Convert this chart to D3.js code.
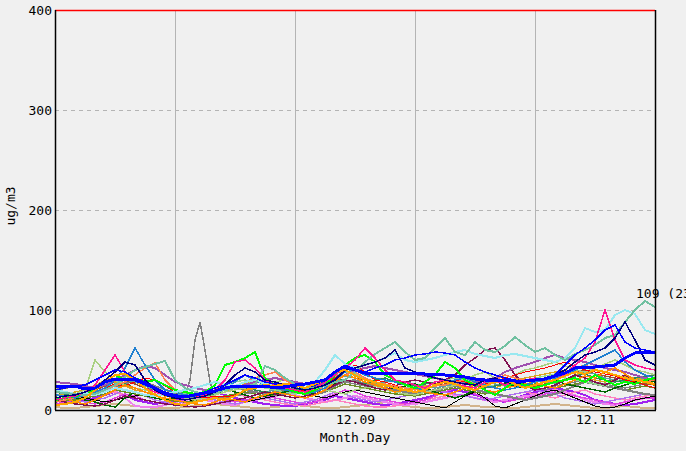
<!DOCTYPE html>
<html><head><meta charset="utf-8">
<script src="https://cdn.jsdelivr.net/npm/d3@7"></script>
<style>
body{margin:0;background:#f0f0f0;}
svg{display:block;}
text{font-family:"DejaVu Sans Mono",monospace;font-size:13px;fill:#000;}
</style>
</head><body><svg id="c" width="686" height="451"></svg>
<script>
// ---- sampling grid (hours since 12.07 00:00) and axis labels ----
const hours = d3.range(0, 121, 2);
const grayHours = d3.range(0, 25, 2).concat(d3.range(26, 33, 1), d3.range(34, 121, 2));
const dayLabels = ["12.07", "12.08", "12.09", "12.10", "12.11"];
const labelHours = [12, 36, 60, 84, 108];
const midnightHours = [24, 48, 72, 96];
const yTicks = [0, 100, 200, 300, 400];
const yGridValues = [100, 200, 300];
const yTitle = "ug/m3";
const xTitle = "Month.Day";
const maxNote = "109 (23:00)";

// ---- series values (ug/m3) ----
const sAvg = [24,23,24,21,22,28,31,31,30,26,22,16, 14,13,15,17,19,22,24,23,24,24,22,23, 25,26,28,30,38,44,40,37,37,37,37,37, 37,36,36,35,34,33,31,30,30,30,29,29, 30,31,34,37,42,43,43,44,45,52,57,58, 57];
const sAqua = [18,17,16,15,16,20,25,33,40,43,46,49, 30,22,18,16,17,20,22,24,25,44,40,32, 26,22,22,24,28,30,38,48,56,62,68,58, 50,52,62,72,58,55,68,60,58,64,73,65, 58,62,55,50,56,60,65,72,75,88,100,109, 103];
const sCyan = [20,18,16,17,15,18,22,20,18,15,14,16, 18,20,22,25,28,26,24,28,30,26,24,22, 24,25,28,40,55,46,42,45,48,52,57,50, 48,50,52,55,58,60,56,54,52,55,56,54, 52,50,48,52,62,82,78,80,95,100,96,80, 76];
const sPink = [10,12,14,18,25,40,55,38,30,22,18,15, 12,10,12,15,20,30,48,50,42,30,25,22, 20,18,22,28,35,42,50,62,52,40,30,28, 25,22,28,30,26,24,22,28,30,25,28,30, 32,28,30,35,45,52,68,100,70,50,45,42, 40];
const sNavy = [12,14,15,18,22,30,38,48,45,30,20,15, 12,10,12,14,18,25,35,42,38,30,28,25, 22,20,22,25,30,40,42,45,48,52,60,42, 38,35,32,30,28,26,25,30,32,28,26,28, 30,32,35,40,48,55,58,62,72,88,70,50, 45];
const sSteel = [15,14,12,15,18,22,30,42,62,45,30,20, 18,15,14,16,20,22,28,35,30,25,22,20, 18,16,18,22,30,38,40,35,32,30,28,25, 22,20,25,28,30,32,28,25,22,20,22,25, 28,30,32,35,40,45,50,55,60,48,40,35, 32];
const sBlue = [20,22,24,25,30,35,40,38,32,28,22,18, 15,14,16,18,22,25,30,35,32,28,26,25, 24,22,25,30,38,42,40,38,42,45,50,52, 55,56,58,57,55,48,42,38,35,32,30,28, 30,32,35,45,55,62,70,80,85,68,62,60, 58];
const sLime = [10,12,14,16,20,28,35,30,32,28,30,25, 20,18,16,18,25,45,48,52,58,32,25,22, 18,16,20,25,35,45,52,55,48,35,30,25, 22,28,35,48,42,30,25,20,15,22,28,25, 22,25,28,30,32,28,35,30,25,28,26,30, 32];
const sOrange = [5,6,8,12,20,28,35,36,30,22,15,10, 6,5,8,10,12,10,14,20,22,25,24,26, 25,22,26,30,38,40,35,30,28,25,22,20, 18,20,25,28,26,22,20,24,28,30,26,22, 25,28,30,34,38,36,40,38,35,32,30,28, 26];
const sDarkOrange = [10,12,8,6,10,15,20,25,22,18,14,12, 10,8,6,5,8,12,10,8,12,15,18,16, 14,12,15,20,28,35,32,28,25,22,18,20, 22,18,16,15,18,22,25,20,18,22,24,26, 28,24,22,26,30,34,32,38,42,36,30,28, 25];
const sCoral = [8,10,12,14,16,20,24,28,35,42,47,30, 20,18,15,16,18,20,24,28,32,35,38,30, 25,22,20,22,30,35,38,32,28,26,24,22, 20,22,24,25,28,30,26,24,30,35,32,30, 28,30,35,38,42,45,40,38,35,32,30,28, 30];
const sRed = [12,14,15,16,18,22,26,24,28,32,30,24, 18,15,14,12,14,13,15,20,22,24,22,20, 18,20,22,25,32,40,45,38,30,28,25,22, 20,22,25,28,30,28,25,26,28,32,35,38, 40,42,45,48,44,40,38,36,34,30,28,25, 22];
const sGray = [15,14,13,15,18,22,26,24,20,18,16,14,12, 14,30,70,88,60,28,14, 12,14,16,18,16,15,16, 18,16,15,18,24,28,26,24,22,20,18,20, 22,20,18,22,25,28,26,24,22,20,22,24, 22,20,24,26,28,30,28,26,24,22,24,26,25];
const sPurple = [12,10,8,10,12,15,18,15,10,8,6,8, 10,12,14,16,18,15,12,10,8,6,5,4, 4,6,8,10,14,12,10,8,6,5,6,8, 10,12,15,18,20,18,15,12,10,8,12,15, 18,20,22,20,18,15,10,8,6,5,6,8, 10];
const sViolet = [8,10,12,14,18,22,20,12,4,3,3,5, 8,10,12,10,8,6,5,8,10,12,14,16, 15,12,10,8,10,12,14,12,10,8,6,5, 6,8,10,12,14,15,12,10,8,10,12,14, 15,18,20,18,15,10,8,6,5,8,10,12, 12];
const sMaroon = [10,8,6,5,4,6,10,14,12,10,8,6, 5,4,3,4,6,8,10,12,15,18,16,14, 12,14,16,20,25,30,28,25,22,20,24,28, 30,28,26,30,35,45,52,60,62,50,35,25, 20,22,25,30,35,32,28,25,30,35,30,28, 25];
const sTan = [3,2,2,3,4,5,6,5,4,3,2,2, 2,3,4,5,6,5,4,3,2,2,3,4, 5,4,3,2,2,3,4,5,6,8,6,4, 3,2,2,3,4,5,4,3,3,2,2,3, 4,5,6,5,4,3,2,2,3,4,3,2, 2];
const sDarkGreen = [15,14,12,10,8,5,3,12,18,15,12,10, 12,14,16,18,20,22,18,15,12,14,16,18, 20,18,16,20,26,30,28,25,22,20,22,24, 26,22,18,15,12,15,20,25,28,26,24,22, 25,28,30,26,24,22,20,18,22,25,28,30, 28];
const sYellowGreen = [12,14,16,20,50,38,30,25,22,20,18,16, 14,12,10,12,15,18,20,22,24,26,28,30, 28,25,22,20,18,16,20,22,24,20,18,16, 15,18,20,22,25,30,35,38,32,28,35,40, 42,45,48,44,40,38,42,46,50,45,40,38, 35];
const sBlack = [10,12,14,12,10,8,10,12,14,16,14,12, 10,8,10,12,14,12,10,8,10,12,14,16, 18,16,14,12,15,18,20,18,16,14,12,10, 8,6,4,2,8,14,18,12,4,2,6,10, 14,18,20,16,12,8,4,2,3,6,10,12, 14];
const sSeaGreen = [18,16,15,14,16,20,24,26,22,20,18,16, 15,14,13,14,16,18,20,22,20,18,17,18, 20,22,24,28,32,30,28,26,30,32,28,26, 24,26,28,30,28,26,24,22,24,26,28,30, 32,30,28,30,34,36,32,30,28,30,32,34, 35];
const sOrchid = [28,27,26,24,22,25,30,35,40,44,42,35, 28,25,22,20,18,20,22,25,28,30,32,30, 28,26,25,26,30,35,40,42,44,42,40,38, 36,34,32,30,28,26,28,30,32,38,42,45, 48,52,55,52,50,48,45,42,40,38,35,32, 30];
const sSienna = [14,15,16,18,20,24,28,30,26,22,20,18, 16,15,14,15,16,18,20,22,24,22,20,18, 16,18,20,24,30,34,32,30,28,26,24,22, 20,22,24,26,28,30,32,30,28,26,24,22, 24,26,30,34,38,40,36,34,32,30,28,26, 25];
const sDimGray = [20,22,24,22,20,18,22,26,30,28,24,20, 18,16,14,16,18,20,22,20,18,16,18,20, 22,20,18,22,26,28,30,26,24,22,20,18, 16,18,20,22,24,22,20,18,16,14,12,10, 12,14,16,20,24,28,26,24,22,20,18,16, 15];
const sHotPink = [6,8,10,12,14,16,18,15,12,10,8,6, 5,6,8,10,12,14,15,14,12,10,8,6, 5,4,6,8,10,8,6,4,3,3,4,6, 8,10,12,14,16,14,12,10,12,14,16,18, 16,14,12,15,18,20,16,14,12,10,12,14, 15];
const sOlive = [8,9,10,12,14,16,20,18,16,14,12,10, 9,8,9,10,12,14,16,18,16,14,15,16, 18,16,15,18,22,26,24,22,20,18,16,15, 14,16,18,20,22,20,18,16,18,20,22,24, 26,24,22,24,26,28,26,24,22,20,22,24, 22];
const sGold = [14,16,18,20,24,30,28,24,20,18,16,14, 12,10,12,14,16,18,22,26,30,28,24,20, 18,20,24,30,36,40,34,30,26,24,22,20, 22,24,26,30,34,30,26,24,22,26,30,32, 34,36,38,40,36,32,30,28,30,34,32,30, 28];
const sCadet = [16,14,12,14,18,22,26,30,28,24,20,18, 16,14,12,14,18,20,24,22,20,18,20,22, 24,22,20,24,30,34,32,28,26,28,30,28, 26,24,22,24,26,28,30,28,26,24,26,28, 30,28,26,30,34,38,36,32,30,28,30,32, 30];
const sLavender = [10,12,10,8,10,12,16,20,18,14,10,8, 6,8,10,12,10,8,6,8,10,12,10,8, 6,8,10,14,18,16,12,10,8,10,12,14, 16,18,20,18,16,14,12,10,12,14,16,18, 20,18,16,12,10,8,6,8,10,12,14,16, 15];
const sLightGreen = [20,18,16,18,22,26,30,34,30,26,22,20, 18,16,14,16,20,24,28,30,26,22,20,18, 16,18,22,28,34,38,36,32,28,26,24,22, 24,26,28,30,32,30,28,26,24,26,28,30, 32,34,36,32,30,28,26,24,28,32,30,28, 26];
const sMagenta = [6,8,10,8,6,8,12,16,14,10,8,6, 8,10,12,14,12,10,8,10,12,14,12,10, 8,6,8,12,16,20,18,14,12,10,8,6, 8,10,14,18,22,20,16,12,10,8,10,12, 14,16,18,16,14,12,10,8,6,8,10,12, 12];

// ---- styles (kept apart from the data) ----
const layers = [
  {v: sTan, c: "#d2b48c", w: 2},
  {v: sPurple, c: "#a020f0", w: 2},
  {v: sViolet, c: "#ee82ee", w: 2},
  {v: sHotPink, c: "#ff80c0", w: 1.5},
  {v: sMagenta, c: "#e040e0", w: 1.5},
  {v: sLavender, c: "#b070f0", w: 1.5},
  {v: sBlack, c: "#000000", w: 1},
  {v: sOlive, c: "#6b8e23", w: 1.5},
  {v: sDimGray, c: "#808080", w: 2},
  {v: sSienna, c: "#a0522d", w: 1.5},
  {v: sCadet, c: "#5f9ea0", w: 1.5},
  {v: sGold, c: "#daa520", w: 1.5},
  {v: sLightGreen, c: "#90d890", w: 1.5},
  {v: sSeaGreen, c: "#2e8b57", w: 1.5},
  {v: sDarkGreen, c: "#006400", w: 1.5},
  {v: sYellowGreen, c: "#a8d080", w: 1.5},
  {v: sMaroon, c: "#801050", w: 1.5},
  {v: sOrchid, c: "#a050b0", w: 2},
  {v: sRed, c: "#ff0000", w: 1},
  {v: sCoral, c: "#ff7f50", w: 1.5},
  {v: sDarkOrange, c: "#ff8c00", w: 1.5},
  {v: sSteel, c: "#2080d0", w: 1.5},
  {v: sLime, c: "#00ff00", w: 2},
  {v: sCyan, c: "#98e8f0", w: 2},
  {v: sAqua, c: "#70c0a0", w: 2},
  {v: sPink, c: "#ff1493", w: 1.5},
  {v: sNavy, c: "#000080", w: 1.5},
  {v: sBlue, c: "#0000ff", w: 1.5},
  {v: sOrange, c: "#ffa500", w: 2},
  {v: sAvg, c: "#0000ff", w: 3}
];

const svg = d3.select("#c");
const L = 55, R = 655, T = 10, B = 410;
const x = d3.scaleLinear().domain([0, 120]).range([L, R]);
const y = d3.scaleLinear().domain([0, 400]).range([B, T]);

svg.append("rect").attr("width", 686).attr("height", 451).attr("fill", "#f0f0f0");
svg.append("defs").append("clipPath").attr("id", "clip")
  .append("rect").attr("x", L).attr("y", T).attr("width", R - L).attr("height", B - T);

// grid
svg.append("g").selectAll("line").data(midnightHours).join("line")
  .attr("x1", d => Math.round(x(d)) + 0.5).attr("x2", d => Math.round(x(d)) + 0.5)
  .attr("y1", T).attr("y2", B).attr("stroke", "#b4b4b4").attr("stroke-width", 1);
svg.append("g").selectAll("line").data(yGridValues).join("line")
  .attr("x1", L).attr("x2", R).attr("y1", d => Math.round(y(d)) + 0.5).attr("y2", d => Math.round(y(d)) + 0.5)
  .attr("stroke", "#b4b4b4").attr("stroke-width", 1).attr("stroke-dasharray", "4,4");

// lines
const plot = svg.append("g").attr("clip-path", "url(#clip)");
const line = d3.line().x(d => x(d[0])).y(d => y(d[1]));
layers.forEach((s, k) => {
  plot.append("path").datum(hours.map((h, i) => [h, s.v[i]]))
    .attr("d", line).attr("fill", "none").attr("stroke", s.c).attr("stroke-width", s.w)
    .attr("stroke-linejoin", "round").attr("shape-rendering", "crispEdges");
  if (k === 8) {
    plot.append("path").datum(grayHours.map((h, i) => [h, sGray[i]]))
      .attr("d", line).attr("fill", "none").attr("stroke", "#808080").attr("stroke-width", 1.5)
      .attr("shape-rendering", "crispEdges");
  }
});

// frame
svg.append("line").attr("x1", L).attr("x2", R).attr("y1", T + 0.5).attr("y2", T + 0.5).attr("stroke", "#ff0000").attr("stroke-width", 1.5);
svg.append("line").attr("x1", L + 0.5).attr("x2", L + 0.5).attr("y1", T).attr("y2", B).attr("stroke", "#000").attr("stroke-width", 1.5);
svg.append("line").attr("x1", R + 0.5).attr("x2", R + 0.5).attr("y1", T).attr("y2", B).attr("stroke", "#000").attr("stroke-width", 1.5);
svg.append("line").attr("x1", L).attr("x2", R + 1).attr("y1", B + 0.5).attr("y2", B + 0.5).attr("stroke", "#000").attr("stroke-width", 1.5);

// axes
const yAxis = d3.axisLeft(y).tickValues(yTicks).tickSize(0).tickPadding(3).tickFormat(d3.format("d"));
const gy = svg.append("g").attr("transform", `translate(${L},0)`).call(yAxis);
const xAxis = d3.axisBottom(x).tickValues(labelHours).tickSize(0).tickPadding(5).tickFormat((d, i) => dayLabels[i]);
const gx = svg.append("g").attr("transform", `translate(0,${B})`).call(xAxis);
[gx, gy].forEach(g => {
  g.select(".domain").remove();
  g.selectAll("text").style("font-family", '"DejaVu Sans Mono",monospace').style("font-size", "13px").attr("fill", "#000");
});

svg.append("text").attr("x", (L + R) / 2).attr("y", 442).attr("text-anchor", "middle").text(xTitle);
svg.append("text").attr("transform", "translate(15,206) rotate(-90)").attr("text-anchor", "middle").text(yTitle);

// max annotation
const maxVal = d3.max(sAqua);
const maxIdx = sAqua.indexOf(maxVal);
svg.append("text").attr("x", x(hours[maxIdx]) - 9).attr("y", y(maxVal) - 3).text(maxNote.replace("109", String(maxVal)));
</script>
</body></html>
